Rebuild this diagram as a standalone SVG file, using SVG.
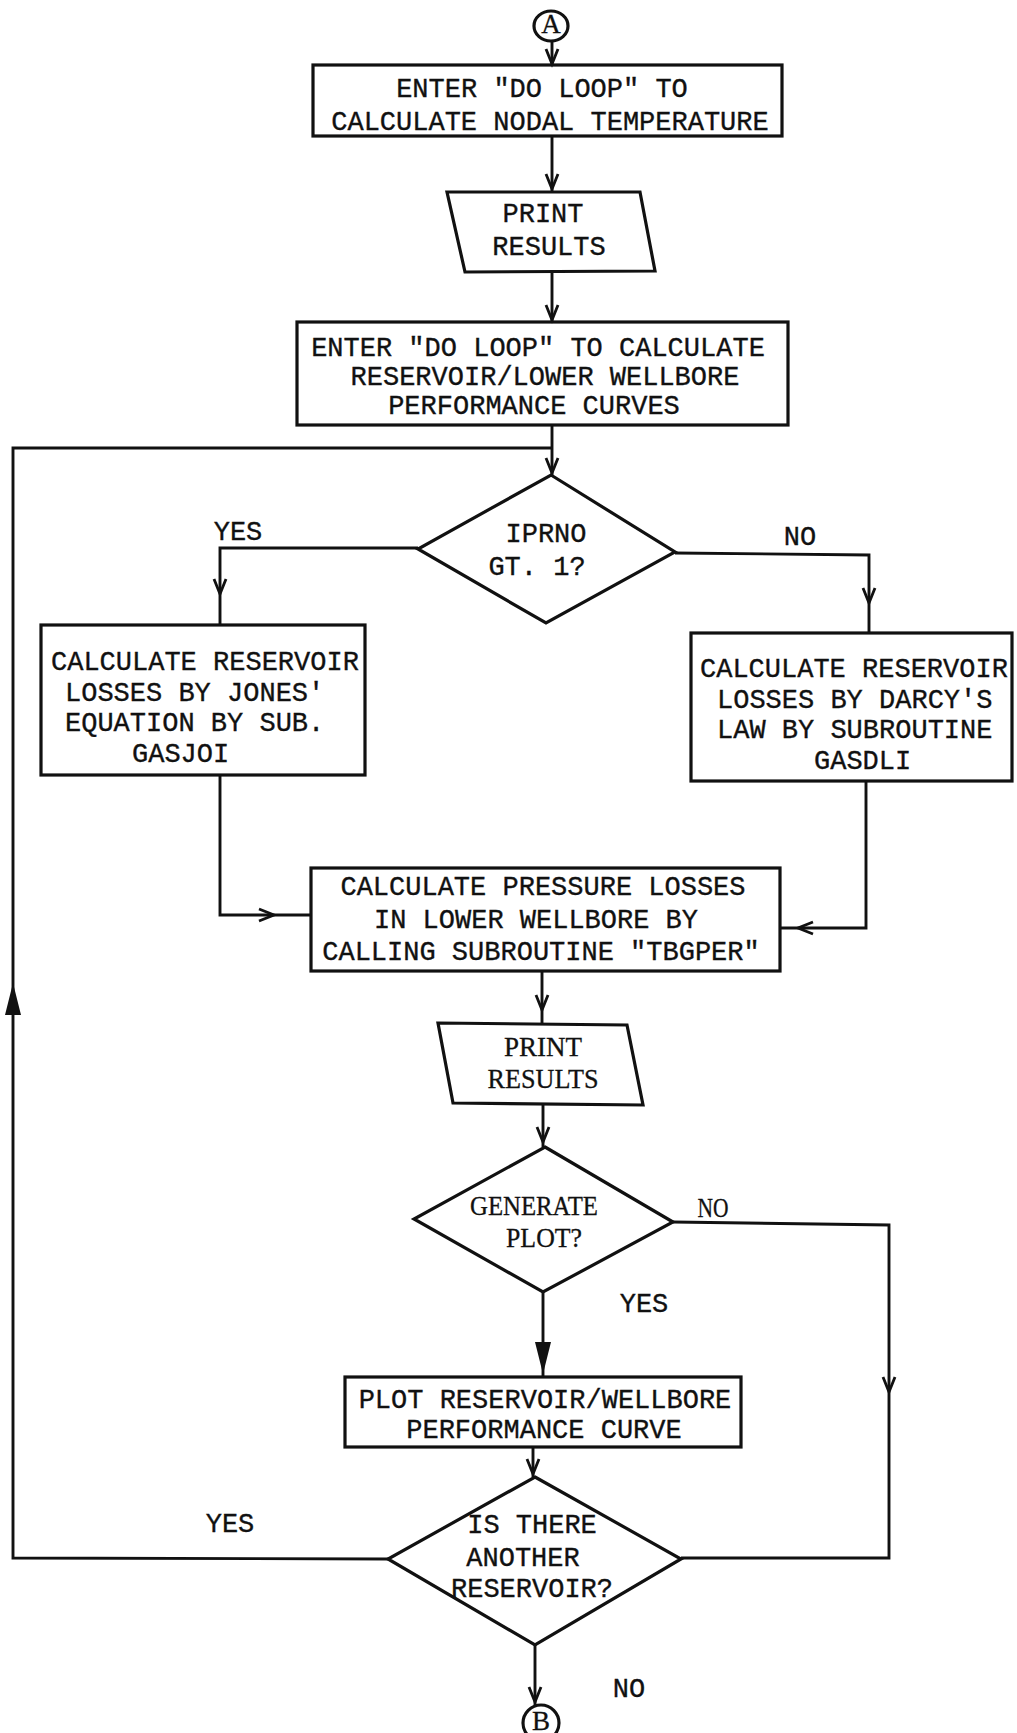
<svg xmlns="http://www.w3.org/2000/svg" xmlns:xlink="http://www.w3.org/1999/xlink" width="1017" height="1733" viewBox="0 0 1017 1733">
<style>
.box{fill:none;stroke:#111;stroke-width:3.2}
.ln{fill:none;stroke:#111;stroke-width:2.9}
.t{font-family:"Liberation Mono","DejaVu Sans Mono",monospace;font-size:27px;fill:#111;stroke:#111;stroke-width:0.35}
.s{font-family:"Liberation Serif","DejaVu Serif",serif;font-size:27px;fill:#111;stroke:#111;stroke-width:0.3}
.m{text-anchor:middle}
</style>
<defs>
<path id="ah" d="M-6,-15 L0,0 L6,-15" fill="none" stroke="#111" stroke-width="2.8"/>
<path id="fah" d="M-8,-32 L8,-32 L0,0 Z" fill="#111"/>
</defs>
<rect width="1017" height="1733" fill="#fff"/>
<g id="connectors">
<path class="ln" d="M552,41 V66"/>
<use xlink:href="#ah" transform="translate(552,64)"/>
<path class="ln" d="M552,136 V191"/>
<use xlink:href="#ah" transform="translate(552,189)"/>
<path class="ln" d="M552,271 V322"/>
<use xlink:href="#ah" transform="translate(552,320)"/>
<path class="ln" d="M552,425 V475"/>
<use xlink:href="#ah" transform="translate(552,473)"/>
<path class="ln" d="M418,548 H220 V625"/>
<use xlink:href="#ah" transform="translate(220,594)"/>
<path class="ln" d="M675,553 L869,555 V633"/>
<use xlink:href="#ah" transform="translate(869,603)"/>
<path class="ln" d="M220,775 V915 H311"/>
<use xlink:href="#ah" transform="translate(274,915) rotate(-90)"/>
<path class="ln" d="M866,781 V928 H780"/>
<use xlink:href="#ah" transform="translate(798,928) rotate(90)"/>
<path class="ln" d="M542,971 V1023"/>
<use xlink:href="#ah" transform="translate(542,1010)"/>
<path class="ln" d="M543,1105 V1147"/>
<use xlink:href="#ah" transform="translate(543,1142)"/>
<path class="ln" d="M673,1222 L889,1225 V1558 H681"/>
<use xlink:href="#ah" transform="translate(889,1392)"/>
<path class="ln" d="M543,1292 V1377" stroke-width="3.6"/>
<use xlink:href="#fah" transform="translate(543,1374)"/>
<path class="ln" d="M533,1447 V1477"/>
<use xlink:href="#ah" transform="translate(533,1474)"/>
<path class="ln" d="M388,1559 L13,1558 V448 H552"/>
<use xlink:href="#fah" transform="translate(13,983) rotate(180)"/>
<path class="ln" d="M535,1645 V1705"/>
<use xlink:href="#ah" transform="translate(535,1702)"/>
<text class="t m" x="238" y="540">YES</text>
<text class="t m" x="800" y="545">NO</text>
<text class="s m" x="713" y="1217" textLength="31" lengthAdjust="spacingAndGlyphs">NO</text>
<text class="t m" x="644" y="1312">YES</text>
<text class="t m" x="230" y="1532">YES</text>
<text class="t m" x="629" y="1697">NO</text>
</g>
<g id="startA">
<ellipse class="box" cx="551" cy="26" rx="17" ry="15" stroke-width="2.5"/>
<text class="s m" x="551" y="33" font-size="20">A</text>
</g>
<g id="box1">
<rect class="box" x="313" y="65" width="469" height="71"/>
<text class="t m" x="542" y="97">ENTER "DO LOOP" TO</text>
<text class="t m" x="550" y="130">CALCULATE NODAL TEMPERATURE</text>
</g>
<g id="print1">
<path class="box" d="M447,192 L640,192 L655,271 L465,272 Z"/>
<text class="t m" x="543" y="222">PRINT</text>
<text class="t m" x="549" y="255">RESULTS</text>
</g>
<g id="box2">
<rect class="box" x="297" y="322" width="491" height="103"/>
<text class="t m" x="538" y="356">ENTER "DO LOOP" TO CALCULATE</text>
<text class="t m" x="545" y="385">RESERVOIR/LOWER WELLBORE</text>
<text class="t m" x="534" y="414">PERFORMANCE CURVES</text>
</g>
<g id="decision1">
<path class="box" d="M551,475 L675,552 L546,623 L418,549 Z"/>
<text class="t m" x="546" y="542">IPRNO</text>
<text class="t m" x="537" y="575">GT. 1?</text>
</g>
<g id="box3">
<rect class="box" x="41" y="625" width="324" height="150"/>
<text class="t" x="51" y="670">CALCULATE RESERVOIR</text>
<text class="t" x="65" y="701">LOSSES BY JONES'</text>
<text class="t" x="65" y="731">EQUATION BY SUB.</text>
<text class="t" x="132" y="762">GASJOI</text>
</g>
<g id="box4">
<rect class="box" x="691" y="633" width="321" height="148"/>
<text class="t" x="700" y="677">CALCULATE RESERVOIR</text>
<text class="t" x="717" y="708">LOSSES BY DARCY'S</text>
<text class="t" x="717" y="738">LAW BY SUBROUTINE</text>
<text class="t" x="814" y="769">GASDLI</text>
</g>
<g id="box5">
<rect class="box" x="311" y="868" width="469" height="103"/>
<text class="t m" x="543" y="895">CALCULATE PRESSURE LOSSES</text>
<text class="t m" x="536" y="928">IN LOWER WELLBORE BY</text>
<text class="t m" x="541" y="960">CALLING SUBROUTINE "TBGPER"</text>
</g>
<g id="print2">
<path class="box" d="M438,1023 L627,1025 L643,1105 L453,1103 Z"/>
<text class="s m" x="543" y="1056">PRINT</text>
<text class="s m" x="543" y="1088" textLength="111" lengthAdjust="spacingAndGlyphs">RESULTS</text>
</g>
<g id="decision2">
<path class="box" d="M545,1147 L673,1222 L543,1292 L414,1219 Z"/>
<text class="s m" x="534" y="1215" textLength="128" lengthAdjust="spacingAndGlyphs">GENERATE</text>
<text class="s m" x="544" y="1247" textLength="76" lengthAdjust="spacingAndGlyphs">PLOT?</text>
</g>
<g id="box6">
<rect class="box" x="345" y="1377" width="396" height="70"/>
<text class="t m" x="545" y="1408">PLOT RESERVOIR/WELLBORE</text>
<text class="t m" x="544" y="1438">PERFORMANCE CURVE</text>
</g>
<g id="decision3">
<path class="box" d="M535,1477 L681,1559 L535,1645 L388,1559 Z"/>
<text class="t m" x="532" y="1533">IS THERE</text>
<text class="t m" x="523" y="1566">ANOTHER</text>
<text class="t m" x="532" y="1597">RESERVOIR?</text>
</g>
<g id="endB">
<circle class="box" cx="541" cy="1723" r="18" stroke-width="2.5"/>
<text class="s m" x="541" y="1730" font-size="20">B</text>
</g>
</svg>
